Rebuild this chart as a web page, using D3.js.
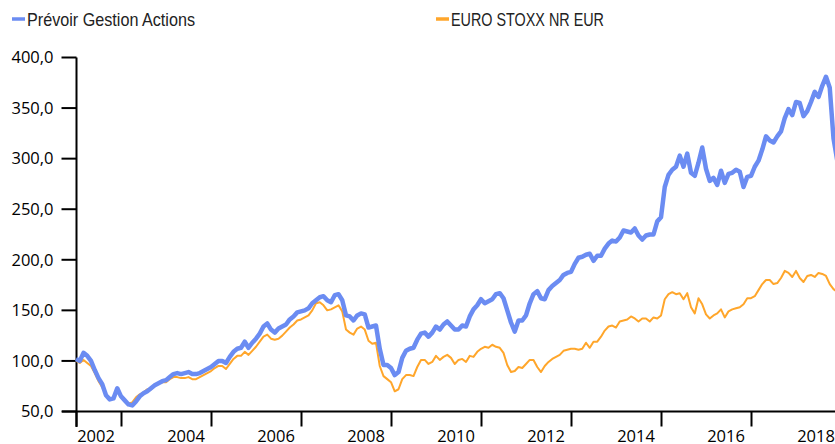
<!DOCTYPE html>
<html>
<head>
<meta charset="utf-8">
<script src="https://cdn.jsdelivr.net/npm/d3@7"></script>
<style>
  body { margin: 0; background: #fff; }
  svg { display: block; }
</style>
</head>
<body>
<svg id="chart"></svg>
<script>
// monthly values, Jan 2002 .. Dec 2018 (one row per year)
const startYear = 2002;

const prevoir = [
  102, 100, 108, 105, 100, 91, 83, 77, 66, 62, 63, 73,
  65, 61, 57, 56, 60, 65, 68, 70, 73, 76, 78, 80,
  81, 84, 87, 88, 87, 88, 89, 87, 87, 88, 90, 92,
  94, 97, 100, 100, 98, 104, 109, 112, 113, 119, 113, 118,
  122, 127, 134, 137, 131, 128, 132, 134, 136, 141, 144, 148,
  149, 150, 152, 157, 160, 163, 164, 160, 158, 165, 166, 160,
  145, 144, 140, 145, 147, 146, 133, 134, 135, 112, 96, 96,
  93, 86, 89, 103, 110, 112, 113, 121, 127, 128, 124, 128,
  134, 131, 136, 139, 135, 131, 131, 135, 134, 144, 151, 155,
  161, 157, 159, 161, 166, 167, 162, 150, 138, 129, 140, 140,
  145, 157, 166, 169, 162, 161, 170, 174, 177, 180, 185, 187,
  188, 196, 202, 203, 205, 206, 199, 204, 204, 211, 216, 219,
  218, 222, 229, 228, 227, 231, 224, 220, 224, 225, 225, 238,
  242, 272, 284, 289, 292, 303, 292, 305, 286, 283, 296, 311,
  290, 278, 281, 274, 288, 276, 285, 286, 289, 287, 272, 282,
  283, 292, 298, 309, 322, 318, 316, 322, 327, 340, 349, 343,
  356, 355, 342, 347, 356, 366, 361, 372, 381, 370, 320, 298
];

const euroStoxx = [
  100, 98, 101, 98, 95, 88, 80, 74, 67, 63, 63, 70,
  64, 60, 58, 59, 64, 67, 69, 72, 72, 76, 78, 79,
  79, 82, 84, 84, 83, 83, 84, 82, 82, 84, 86, 88,
  90, 93, 95, 95, 92, 97, 102, 105, 105, 109, 106, 110,
  114, 119, 124, 126, 122, 121, 122, 125, 129, 133, 136, 140,
  141, 143, 145, 150, 157, 158, 155, 150, 151, 153, 155, 149,
  131, 128, 126, 132, 134, 131, 120, 117, 118, 95, 85, 82,
  79, 70, 72, 82, 86, 86, 85, 94, 101, 101, 97, 99,
  105, 101, 104, 106, 103, 97, 101, 102, 99, 105, 104, 109,
  112, 114, 113, 116, 114, 113, 108, 96, 89, 90, 94, 93,
  97, 101, 101, 94, 89, 95, 99, 102, 104, 106, 110, 111,
  112, 112, 111, 112, 118, 113, 119, 119, 124, 130, 134, 135,
  133, 139, 140, 141, 144, 142, 139, 142, 142, 139, 143, 142,
  145, 161, 166, 168, 166, 167, 161, 167, 153, 147, 162, 156,
  146, 142, 145, 147, 151, 143, 149, 151, 152, 153, 156, 162,
  162, 164, 170, 176, 180, 180, 176, 177, 182, 189, 187, 183,
  189, 182, 178, 184, 185, 183, 187, 186, 184, 176, 171, 168
];

const seriesNames = ["Prévoir Gestion Actions", "EURO STOXX NR EUR"];
const seriesColors = ["#6b8cf2", "#ffa62b"];
const yTicks = [50, 100, 150, 200, 250, 300, 350, 400];
const xLabelYears = [2002, 2004, 2006, 2008, 2010, 2012, 2014, 2016, 2018];
const xTickYears = [2002, 2003, 2005, 2007, 2009, 2011, 2013, 2015, 2017];

const width = 835;
const height = 444;

const svg = d3.select("#chart")
  .attr("width", width)
  .attr("height", height);

// fractional year -> px (3.75 px per month)
const x = d3.scaleLinear().domain([2002, 2018]).range([76, 796]);
const y = d3.scaleLinear().domain([50, 400]).range([411.5, 57.5]);

const fmt = v => d3.format(".1f")(v).replace(".", ",");

// y axis
const yAxis = svg.append("g").attr("transform", "translate(76.5,0)");
yAxis.append("line")
  .attr("y1", y(400)).attr("y2", 427)
  .attr("stroke", "#000").attr("stroke-width", 2);
yAxis.selectAll(".yt").data(yTicks).enter().append("line")
  .attr("x1", -15).attr("x2", 0)
  .attr("y1", d => y(d)).attr("y2", d => y(d))
  .attr("stroke", "#000").attr("stroke-width", 2);
yAxis.selectAll(".yl").data(yTicks).enter().append("text")
  .attr("x", -23)
  .attr("y", d => y(d))
  .attr("dy", "0.35em")
  .attr("text-anchor", "end")
  .style("font-family", "'Open Sans', sans-serif")
  .style("font-size", "16.5px")
  .attr("fill", "#000")
  .text(fmt);

// x axis
const xAxis = svg.append("g").attr("transform", `translate(0,${y(50)})`);
xAxis.append("line")
  .attr("x1", 62).attr("x2", width)
  .attr("stroke", "#000").attr("stroke-width", 2);
xAxis.selectAll(".xt").data(xTickYears).enter().append("line")
  .attr("x1", d => x(d) + 0.5).attr("x2", d => x(d) + 0.5)
  .attr("y1", 0).attr("y2", 15)
  .attr("stroke", "#000").attr("stroke-width", 2);
xAxis.selectAll(".xl").data(xLabelYears).enter().append("text")
  .attr("x", d => x(d) + 20)
  .attr("y", 30)
  .attr("text-anchor", "middle")
  .style("font-family", "'Open Sans', sans-serif")
  .style("font-size", "16.5px")
  .attr("fill", "#000")
  .text(d => d);

// lines
const toPoints = arr => arr.map((v, i) => ({ t: startYear + i / 12, v: v }));
const line = d3.line().x(d => x(d.t)).y(d => y(d.v));

svg.append("path")
  .datum(toPoints(euroStoxx))
  .attr("d", line)
  .attr("fill", "none")
  .attr("stroke", seriesColors[1])
  .attr("stroke-width", 2)
  .attr("stroke-linejoin", "round");

svg.append("path")
  .datum(toPoints(prevoir))
  .attr("d", line)
  .attr("fill", "none")
  .attr("stroke", seriesColors[0])
  .attr("stroke-width", 4.5)
  .attr("stroke-linejoin", "round");

// legend
const legendX = [12, 436];
const legendW = [168, 153];
const legend = svg.selectAll(".legend").data(seriesNames).enter().append("g")
  .attr("class", "legend")
  .attr("transform", (d, i) => `translate(${legendX[i]},0)`);

legend.append("line")
  .attr("x1", 0).attr("x2", 13)
  .attr("y1", 19).attr("y2", 19)
  .attr("stroke", (d, i) => seriesColors[i])
  .attr("stroke-width", 3.5);

legend.append("text")
  .attr("x", 15)
  .attr("y", 25.7)
  .attr("textLength", (d, i) => legendW[i])
  .attr("lengthAdjust", "spacingAndGlyphs")
  .style("font-family", "'Liberation Sans Narrow', 'Arial Narrow', sans-serif")
  .style("font-size", "18.5px")
  .attr("fill", "#222")
  .text(d => d);
</script>
</body>
</html>
